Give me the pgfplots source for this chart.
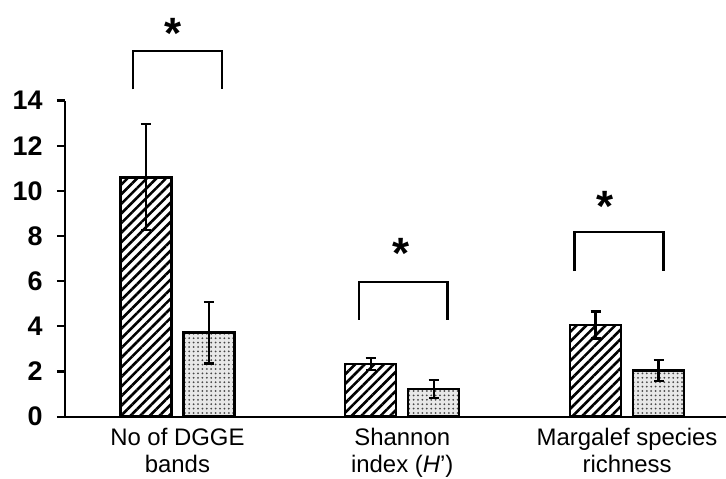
\documentclass[border=0pt]{standalone}
\usepackage{pgfplots}
\pgfplotsset{compat=1.18}
\usepackage{fontspec}
\setmainfont{Liberation Sans}
\usetikzlibrary{patterns,patterns.meta}
\begin{document}
\begin{tikzpicture}
\begin{axis}[
  name=ax,
  scale only axis,
  width=330.5bp, height=158bp,
  xmin=-0.5, xmax=2.44,
  ymin=0, ymax=14,
  axis lines=left,
  axis line style={-, line width=1.1bp},
  xtick={0,1,2},
  xticklabels={{No of DGGE\\bands},{Shannon\\index (\textit{H}’)},{Margalef species\\richness}},
  xtick style={draw=none},
  xticklabel style={align=center, font=\fontsize{12}{13.5}\selectfont, inner sep=0pt, yshift=-1.5bp},
  ytick={0,2,...,14},
  tick align=outside,
  ytick style={line width=1.1bp, black},
  major tick length=4bp,
  yticklabel style={font=\fontsize{13.5}{14}\selectfont\bfseries, inner sep=0pt, xshift=-7bp},
  /pgf/number format/assume math mode=true,
  ybar=6bp, bar width=25.5bp,
  clip=false,
]
\addplot[draw=black, line width=1.2bp, fill=white,
  pattern={Lines[angle=45,distance=3.4bp,line width=1.3bp]},
  error bars/.cd, y dir=both, y explicit,
  error bar style={line width=1.1bp, black},
  error mark options={rotate=90, mark size=2.5bp, line width=1.1bp, black}]
  coordinates {
  (0,10.6) +- (0,2.35)
  (1,2.34) +- (0,0.27)
  (2,4.06) +- (0,0.6)
};
\addplot[draw=black, line width=1.2bp, fill=gray!18,
  postaction={pattern={Dots[distance=2.2bp, radius=0.5bp]}, pattern color=gray!55!black},
  error bars/.cd, y dir=both, y explicit,
  error bar style={line width=1.1bp, black},
  error mark options={rotate=90, mark size=2.5bp, line width=1.1bp, black}]
  coordinates {
  (0,3.72) +- (0,1.37)
  (1,1.22) +- (0,0.4)
  (2,2.04) +- (0,0.48)
};
% significance brackets
\draw[line width=1.2bp] (axis cs:-0.198,14.5) -- (axis cs:-0.198,16.2) -- (axis cs:0.198,16.2) -- (axis cs:0.198,14.5);
\draw[line width=1.2bp] (axis cs:0.807,4.28) -- (axis cs:0.807,5.96) -- (axis cs:1.202,5.96) -- (axis cs:1.202,4.28);
\draw[line width=1.2bp] (axis cs:1.767,6.45) -- (axis cs:1.767,8.17) -- (axis cs:2.162,8.17) -- (axis cs:2.162,6.45);
\node[font=\fontsize{22}{22}\selectfont\bfseries, inner sep=0pt, anchor=base] at (axis cs:-0.02,16.3) {*};
\node[font=\fontsize{22}{22}\selectfont\bfseries, inner sep=0pt, anchor=base] at (axis cs:0.995,6.55) {*};
\node[font=\fontsize{22}{22}\selectfont\bfseries, inner sep=0pt, anchor=base] at (axis cs:1.904,8.65) {*};
\end{axis}
\pgfresetboundingbox
\path (ax.south west) ++(-32.5bp,-31.2bp) rectangle ++(363bp,239.5bp);
\end{tikzpicture}
\end{document}
